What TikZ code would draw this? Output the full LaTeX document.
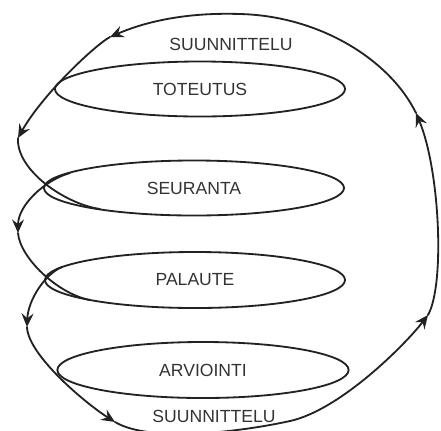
\documentclass[tikz,border=0pt]{standalone}
\usepackage{fontspec}
\newfontfamily\lblfont{Liberation Sans}
\usepackage{xcolor}
\definecolor{ink}{HTML}{222222}
\definecolor{lettering}{HTML}{333333}
\usepackage{tikz}
\usetikzlibrary{arrows.meta,shapes.geometric}
\tikzset{
  >={Stealth[length=3.4mm,width=3mm,inset=1.2mm]},
  oval/.style  ={ellipse,draw=ink,line width=1.3pt,inner sep=0pt,
                 minimum width=7.25cm,minimum height=1.375cm,
                 font=\lblfont\fontsize{12.5}{14}\selectfont,text=lettering},
  lbl/.style   ={font=\lblfont\fontsize{12.5}{14}\selectfont,text=lettering,inner sep=1pt},
  flow/.style  ={->,draw=ink,line width=1.3pt,line cap=round},
  curve/.style ={draw=ink,line width=1.3pt,line cap=round},
}

\begin{document}
\begin{tikzpicture}[x=0.025cm,y=-0.025cm]
\useasboundingbox (0,0) rectangle (441,430);
% stages
\node[oval] (tot) at (200,89) {TOTEUTUS};
\node[oval,minimum width=7.5cm] (seur) at (194,188) {SEURANTA};
\node[oval,minimum width=7.5cm,minimum height=1.4cm] (pal) at (195,280) {PALAUTE};
\node[oval,minimum width=7.28cm,minimum height=1.4cm] (arv) at (203,370) {ARVIOINTI};
\node[lbl] (suuntop) at (231,44) {SUUNNITTELU};
\node[lbl] (suunbot) at (214,416) {SUUNNITTELU};
% points on the spiral
\coordinate (p1) at (62,267);
\coordinate (p2) at (90,300);
\coordinate (s1) at (70,173);
\coordinate (s2) at (100,209);
\coordinate (a1) at (110,37);
\coordinate (a2) at (18,138);
\coordinate (a3) at (27,327);
\coordinate (a4) at (18,233);
\coordinate (a5) at (115,422);
\coordinate (a6) at (428,315);
\coordinate (a7) at (416,113);
\coordinate (b1) at (290,421);
\coordinate (t1) at (240,14);
% palaute -> arviointi -> big loop
\draw[flow] (p1) .. controls (45,274) and (28,300) .. (a3);
\draw[flow] (a3) .. controls (28,355) and (85,403) .. (a5);
\draw[curve] (a5) .. controls (150,443) and (240,432) .. (b1);
\draw[flow] (b1) .. controls (340,410) and (405,345) .. (a6);
\draw[flow] (a6) .. controls (445,285) and (440,170) .. (a7);
\draw[curve] (a7) .. controls (390,60) and (320,16) .. (t1);
\draw[flow] (t1) .. controls (180,12) and (140,24) .. (a1);
% down through toteutus into seuranta
\draw[flow] (a1) .. controls (95,45) and (42,95) .. (a2);
\draw[curve] (a2) .. controls (16,170) and (65,204) .. (s2);
% seuranta -> palaute
\draw[flow] (s1) .. controls (45,180) and (18,205) .. (a4);
\draw[curve] (a4) .. controls (20,258) and (58,294) .. (p2);
\end{tikzpicture}
\end{document}
